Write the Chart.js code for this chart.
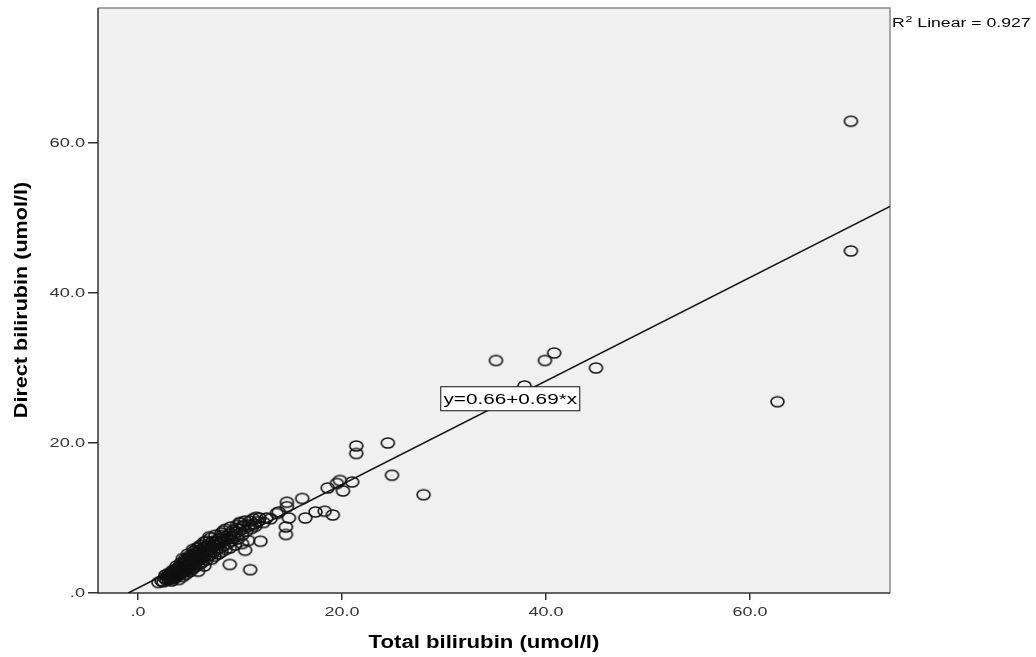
<!DOCTYPE html>
<html>
<head>
<meta charset="utf-8">
<script src="https://cdn.jsdelivr.net/npm/chart.js@4.4.0/dist/chart.umd.min.js"></script>
<style>
  body { margin: 0; background: #fff; }
  #wrap { width: 1036px; height: 657px; }
</style>
</head>
<body>
<div id="wrap"><canvas id="scatter" width="1036" height="657"></canvas></div>
<script>

// values (umol/l)
var totalBili = [
    2.0, 2.3, 2.5, 2.6, 2.8, 2.9, 3.0, 3.1, 3.2, 3.3, 3.3, 3.4, 3.5, 3.5, 3.6, 3.7, 3.7, 3.8, 3.9, 3.9,
    4.0, 4.0, 4.1, 4.1, 4.2, 4.3, 4.3, 4.4, 4.4, 4.5, 4.5, 4.6, 4.6, 4.7, 4.7, 4.8, 4.8, 4.9, 5.0, 5.0,
    5.0, 5.1, 5.2, 5.2, 5.3, 5.3, 5.4, 5.4, 5.5, 5.5, 5.6, 5.6, 5.7, 5.7, 5.8, 5.9, 5.9, 6.0, 6.0, 6.1,
    6.1, 6.2, 6.3, 6.3, 6.4, 6.4, 6.5, 6.5, 6.6, 6.6, 6.7, 6.8, 6.8, 6.9, 7.0, 7.0, 7.1, 7.2, 7.2, 7.3,
    7.4, 7.5, 7.5, 7.6, 7.7, 7.8, 7.9, 8.0, 8.0, 8.1, 8.2, 8.3, 8.4, 8.5, 8.6, 8.7, 8.8, 8.9, 9.0, 9.1,
    9.2, 9.3, 9.4, 9.5, 9.6, 9.7, 9.8, 10.0, 10.0, 10.2, 10.3, 10.5, 10.6, 10.8, 10.9, 11.1, 11.3, 11.5, 11.7, 11.9,
    12.3, 13.0,
    2.7, 3.0, 3.4, 3.8, 4.2, 4.6, 5.1, 5.5, 5.8, 6.2, 6.7, 7.1, 7.6, 8.2, 8.6, 9.1, 9.7, 10.4, 11.0, 11.4,
    3.2, 3.6, 4.4, 4.9, 5.4, 6.0, 6.5, 7.0, 7.7, 8.3,
    69.9, 69.9, 62.7, 44.9, 40.8, 39.9, 35.1, 37.9, 28.0, 24.5, 24.9, 21.4, 21.4, 21.0, 20.1, 19.8, 19.5, 18.6, 16.1, 14.6,
    14.6, 16.4, 17.4, 18.3, 19.1, 14.8, 14.5, 14.5, 13.8, 12.6, 9.0, 11.0, 12.0, 10.5, 10.2, 5.9, 11.6, 13.6, 10.0, 8.4
];
var directBili = [
    1.4, 1.6, 1.5, 2.0, 1.7, 2.2, 1.8, 2.4, 2.0, 1.6, 2.7, 2.2, 2.9, 1.9, 2.5, 3.1, 2.1, 2.7, 3.3, 2.3,
    2.9, 1.8, 3.5, 2.5, 3.1, 3.7, 2.7, 3.3, 2.2, 3.9, 2.9, 3.5, 4.2, 3.0, 2.5, 3.7, 4.4, 3.2, 4.0, 2.8,
    4.7, 3.5, 4.3, 3.0, 4.9, 3.8, 4.5, 3.3, 5.1, 4.0, 4.7, 3.5, 5.3, 4.2, 4.9, 3.8, 5.5, 4.4, 5.0, 3.9,
    5.7, 4.6, 5.2, 4.1, 5.9, 4.8, 5.4, 3.6, 6.1, 5.0, 4.4, 5.6, 6.3, 4.9, 5.8, 6.6, 5.1, 6.1, 4.5, 6.8,
    5.5, 6.3, 4.9, 7.0, 5.8, 6.5, 5.2, 7.2, 6.0, 6.8, 5.5, 7.4, 6.3, 7.0, 5.8, 7.6, 6.6, 7.2, 6.0, 7.9,
    6.9, 8.3, 7.4, 6.4, 8.1, 9.0, 7.2, 8.5, 9.3, 7.7, 8.9, 9.6, 8.2, 7.0, 9.1, 8.6, 9.9, 8.9, 9.5, 10.0,
    9.4, 9.9,
    2.4, 2.6, 3.0, 3.6, 4.0, 4.5, 5.0, 5.6, 6.0, 6.4, 6.9, 7.3, 7.7, 8.0, 8.5, 8.8, 8.6, 9.0, 9.6, 9.2,
    1.9, 2.3, 4.6, 5.2, 5.8, 6.2, 6.8, 7.5, 6.9, 7.7,
    62.9, 45.6, 25.5, 30.0, 32.0, 31.0, 31.0, 27.6, 13.1, 20.0, 15.7, 19.6, 18.6, 14.8, 13.6, 15.0, 14.6, 14.0, 12.6, 12.1,
    11.5, 10.0, 10.8, 10.9, 10.4, 10.0, 8.8, 7.8, 10.8, 10.0, 3.8, 3.1, 6.9, 5.7, 6.6, 2.9, 10.1, 10.6, 9.4, 8.3
];

var xTicks = [0, 20, 40, 60];
var yTicks = [0, 20, 40, 60];
var xTickLabels = ['.0', '20.0', '40.0', '60.0'];
var yTickLabels = ['.0', '20.0', '40.0', '60.0'];

var fitIntercept = 0.66;
var fitSlope = 0.69;
var rSquared = 0.927;

var xMin = -3.92, xMax = 73.73;
var yMin = 0, yMax = 78;

var points = [];
for (var i = 0; i < totalBili.length; i++) {
    points.push({ x: totalBili[i], y: directBili[i] });
}

// fit line from where it crosses y=0 to the right edge
var xStart = -fitIntercept / fitSlope;
var fitLine = [
    { x: xStart, y: 0 },
    { x: xMax, y: fitIntercept + fitSlope * xMax }
];

// the markers in the picture are slightly flattened circles
function ringMarker() {
    var c = document.createElement('canvas');
    c.width = 17; c.height = 14;
    var g = c.getContext('2d');
    g.strokeStyle = '#111';
    g.lineWidth = 1.6;
    g.beginPath();
    g.ellipse(8.5, 7, 6.5, 5.0, 0, 0, Math.PI * 2);
    g.stroke();
    return c;
}

function wideText(ctx, text, x, y, sx, align) {
    ctx.save();
    ctx.translate(x, y);
    ctx.scale(sx, 1);
    ctx.textAlign = align;
    ctx.fillText(text, 0, 0);
    ctx.restore();
}

var frameAndText = {
    id: 'frameAndText',
    beforeDatasetsDraw: function(chart) {
        var a = chart.chartArea, ctx = chart.ctx;
        ctx.save();
        ctx.fillStyle = '#f0f0f0';
        ctx.fillRect(a.left, a.top, a.right - a.left, a.bottom - a.top);
        ctx.strokeStyle = '#8a8a8a';
        ctx.lineWidth = 1.5;
        ctx.beginPath();
        ctx.moveTo(a.left, a.top);
        ctx.lineTo(a.right, a.top);
        ctx.lineTo(a.right, a.bottom);
        ctx.stroke();
        ctx.strokeStyle = '#333';
        ctx.beginPath();
        ctx.moveTo(a.left, a.top);
        ctx.lineTo(a.left, a.bottom);
        ctx.lineTo(a.right, a.bottom);
        ctx.stroke();
        ctx.restore();
    },
    afterDatasetsDraw: function(chart) {
        var ctx = chart.ctx;
        var xs = chart.scales.x, ys = chart.scales.y;
        ctx.save();

        // tick labels
        ctx.fillStyle = '#333';
        ctx.font = '13px "Liberation Sans", Arial, sans-serif';
        ctx.textBaseline = 'middle';
        for (var i = 0; i < xTicks.length; i++) {
            wideText(ctx, xTickLabels[i], xs.getPixelForValue(xTicks[i]), 612, 1.38, 'center');
        }
        for (var j = 0; j < yTicks.length; j++) {
            wideText(ctx, yTickLabels[j], 85, ys.getPixelForValue(yTicks[j]), 1.4, 'right');
        }

        // axis titles
        ctx.fillStyle = '#000';
        ctx.textBaseline = 'alphabetic';
        ctx.font = 'bold 18px "Liberation Sans", Arial, sans-serif';
        wideText(ctx, 'Total bilirubin (umol/l)', 484, 648, 1.23, 'center');
        ctx.save();
        ctx.translate(22, 300);
        ctx.rotate(-Math.PI / 2);
        ctx.font = 'bold 18px "Liberation Sans", Arial, sans-serif';
        ctx.scale(1.2, 1);
        ctx.textAlign = 'center';
        ctx.textBaseline = 'middle';
        ctx.fillText('Direct bilirubin (umol/l)', 0, 0);
        ctx.restore();

        // equation box
        var bx = xs.getPixelForValue(36.5), by = ys.getPixelForValue(25.9);
        ctx.fillStyle = '#fff';
        ctx.fillRect(bx - 69.5, by - 12, 139, 24);
        ctx.strokeStyle = '#111';
        ctx.lineWidth = 1;
        ctx.strokeRect(bx - 69.5, by - 12, 139, 24);
        ctx.fillStyle = '#000';
        ctx.textBaseline = 'middle';
        ctx.font = '14px "Liberation Sans", Arial, sans-serif';
        wideText(ctx, 'y=' + fitIntercept.toFixed(2) + '+' + fitSlope.toFixed(2) + '*x', bx, by + 1, 1.48, 'center');

        // R squared note
        ctx.textBaseline = 'alphabetic';
        ctx.save();
        ctx.translate(892, 27);
        ctx.scale(1.47, 1);
        ctx.textAlign = 'left';
        ctx.font = '12px "Liberation Sans", Arial, sans-serif';
        ctx.fillText('R', 0, 0);
        var w = ctx.measureText('R').width + 0.5;
        ctx.font = '8.5px "Liberation Sans", Arial, sans-serif';
        ctx.fillText('2', w, -5);
        w += ctx.measureText('2').width;
        ctx.font = '12px "Liberation Sans", Arial, sans-serif';
        ctx.fillText(' Linear = ' + rSquared.toFixed(3), w, 0);
        ctx.restore();

        ctx.restore();
    }
};

new Chart(document.getElementById('scatter'), {
    type: 'scatter',
    data: {
        datasets: [
            {
                type: 'line',
                data: fitLine,
                borderColor: '#111',
                borderWidth: 1.5,
                pointRadius: 0,
                fill: false
            },
            {
                data: points,
                pointStyle: ringMarker(),
                pointRadius: 7
            }
        ]
    },
    plugins: [frameAndText],
    options: {
        responsive: false,
        animation: false,
        events: [],
        layout: { padding: { left: 0, right: 146, top: 8, bottom: 0 } },
        plugins: {
            legend: { display: false },
            tooltip: { enabled: false }
        },
        scales: {
            x: {
                type: 'linear',
                min: xMin,
                max: xMax,
                afterBuildTicks: function(s) { s.ticks = xTicks.map(function(v) { return { value: v }; }); },
                afterFit: function(s) { s.height = 64; },
                ticks: { display: false },
                grid: { drawOnChartArea: false, drawTicks: true, tickLength: 7, color: '#333', lineWidth: 1.5 },
                border: { display: false }
            },
            y: {
                type: 'linear',
                min: yMin,
                max: yMax,
                afterBuildTicks: function(s) { s.ticks = yTicks.map(function(v) { return { value: v }; }); },
                afterFit: function(s) { s.width = 98; },
                ticks: { display: false },
                grid: { drawOnChartArea: false, drawTicks: true, tickLength: 10, color: '#333', lineWidth: 1.5 },
                border: { display: false }
            }
        }
    }
});
</script>
</body>
</html>
